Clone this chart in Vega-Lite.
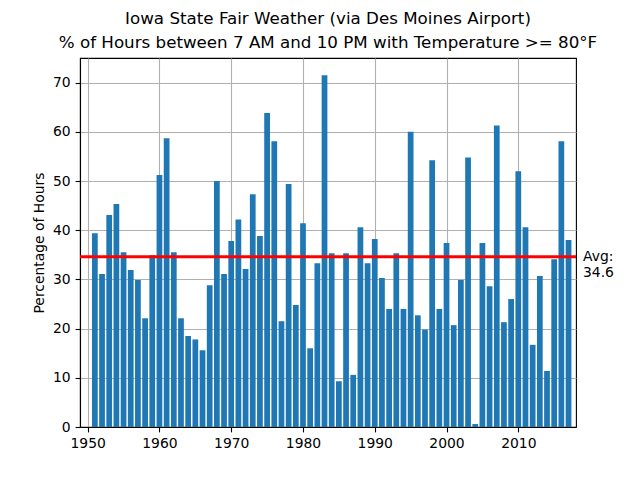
{
  "$schema": "https://vega.github.io/schema/vega-lite/v6.json",
  "width": 496,
  "height": 369,
  "autosize": {"type": "none"},
  "padding": {"left": 80, "top": 58, "right": 64, "bottom": 53},
  "background": "white",
  "title": {
    "text": [
      "Iowa State Fair Weather (via Des Moines Airport)",
      "% of Hours between 7 AM and 10 PM with Temperature >= 80°F"
    ],
    "anchor": "middle",
    "frame": "group",
    "font": "DejaVu Sans",
    "fontSize": 16.7,
    "fontWeight": "normal",
    "color": "black",
    "lineHeight": 24,
    "offset": 6
  },
  "config": {
    "view": {"stroke": "black", "strokeWidth": 1.1},
    "axis": {
      "labelFont": "DejaVu Sans",
      "labelFontSize": 13.9,
      "labelColor": "black",
      "titleFont": "DejaVu Sans",
      "titleFontSize": 13.9,
      "titleFontWeight": "normal",
      "titleColor": "black",
      "tickColor": "black",
      "tickSize": 4.9,
      "tickWidth": 1.1,
      "labelPadding": 4.9,
      "domainColor": "black",
      "domainWidth": 1.1,
      "grid": true,
      "gridColor": "#b0b0b0",
      "gridWidth": 1.1,
      "zindex": 1
    },
    "axisY": {"titlePadding": 6}
  },
  "layer": [
    {
      "data": {
        "values": [
          {"year": 1951, "pct": 39.4}, {"year": 1952, "pct": 31.1}, {"year": 1953, "pct": 43.1},
          {"year": 1954, "pct": 45.3}, {"year": 1955, "pct": 35.5}, {"year": 1956, "pct": 31.9},
          {"year": 1957, "pct": 29.9}, {"year": 1958, "pct": 22.1}, {"year": 1959, "pct": 34.9},
          {"year": 1960, "pct": 51.2}, {"year": 1961, "pct": 58.7}, {"year": 1962, "pct": 35.5},
          {"year": 1963, "pct": 22.1}, {"year": 1964, "pct": 18.5}, {"year": 1965, "pct": 17.8},
          {"year": 1966, "pct": 15.6}, {"year": 1967, "pct": 28.8}, {"year": 1968, "pct": 50.0},
          {"year": 1969, "pct": 31.1}, {"year": 1970, "pct": 37.8}, {"year": 1971, "pct": 42.2},
          {"year": 1972, "pct": 32.1}, {"year": 1973, "pct": 47.3}, {"year": 1974, "pct": 38.8},
          {"year": 1975, "pct": 63.8}, {"year": 1976, "pct": 58.1}, {"year": 1977, "pct": 21.5},
          {"year": 1978, "pct": 49.4}, {"year": 1979, "pct": 24.8}, {"year": 1980, "pct": 41.4},
          {"year": 1981, "pct": 16.0}, {"year": 1982, "pct": 33.3}, {"year": 1983, "pct": 71.5},
          {"year": 1984, "pct": 35.3}, {"year": 1985, "pct": 9.3}, {"year": 1986, "pct": 35.3},
          {"year": 1987, "pct": 10.6}, {"year": 1988, "pct": 40.6}, {"year": 1989, "pct": 33.3},
          {"year": 1990, "pct": 38.2}, {"year": 1991, "pct": 30.3}, {"year": 1992, "pct": 24.0},
          {"year": 1993, "pct": 35.3}, {"year": 1994, "pct": 24.0}, {"year": 1995, "pct": 60.0},
          {"year": 1996, "pct": 22.7}, {"year": 1997, "pct": 19.8}, {"year": 1998, "pct": 54.2},
          {"year": 1999, "pct": 24.0}, {"year": 2000, "pct": 37.4}, {"year": 2001, "pct": 20.7},
          {"year": 2002, "pct": 29.9}, {"year": 2003, "pct": 54.8}, {"year": 2004, "pct": 0.6},
          {"year": 2005, "pct": 37.4}, {"year": 2006, "pct": 28.6}, {"year": 2007, "pct": 61.3},
          {"year": 2008, "pct": 21.3}, {"year": 2009, "pct": 26.0}, {"year": 2010, "pct": 52.0},
          {"year": 2011, "pct": 40.6}, {"year": 2012, "pct": 16.7}, {"year": 2013, "pct": 30.7},
          {"year": 2014, "pct": 11.4}, {"year": 2015, "pct": 34.1}, {"year": 2016, "pct": 58.1},
          {"year": 2017, "pct": 38.0}
        ]
      },
      "mark": {"type": "bar", "color": "#1f77b4", "width": 5.74},
      "encoding": {
        "x": {
          "field": "year",
          "type": "quantitative",
          "scale": {"domain": [1948.93, 2018.04], "nice": false, "zero": false, "padding": 0},
          "axis": {"values": [1950, 1960, 1970, 1980, 1990, 2000, 2010], "format": "d", "title": null}
        },
        "y": {
          "field": "pct",
          "type": "quantitative",
          "scale": {"domain": [0, 75], "nice": false},
          "axis": {"values": [0, 10, 20, 30, 40, 50, 60, 70], "title": "Percentage of Hours"}
        }
      }
    },
    {
      "data": {"values": [{"avg": 34.6, "label": "Avg:\n34.6"}]},
      "layer": [
        {
          "mark": {"type": "rule", "color": "#ff0000", "strokeWidth": 2.8},
          "encoding": {"y": {"field": "avg", "type": "quantitative"}}
        },
        {
          "mark": {
            "type": "text",
            "align": "left",
            "baseline": "middle",
            "dx": 7,
            "lineBreak": "\n",
            "font": "DejaVu Sans",
            "fontSize": 13.9,
            "lineHeight": 16,
            "color": "black",
            "clip": false
          },
          "encoding": {
            "x": {"datum": 2018.04},
            "y": {"field": "avg", "type": "quantitative"},
            "text": {"field": "label"}
          }
        }
      ]
    }
  ]
}
